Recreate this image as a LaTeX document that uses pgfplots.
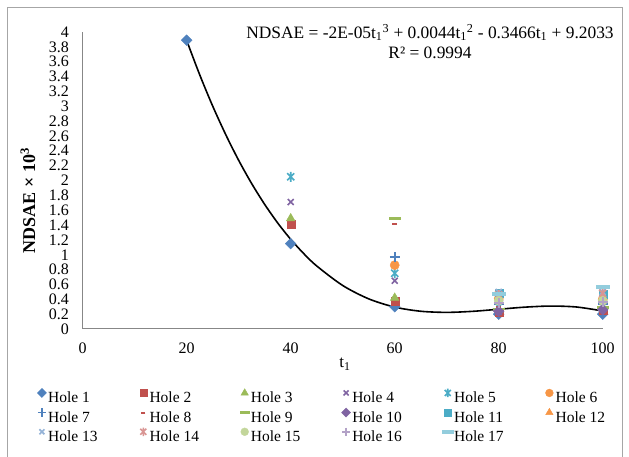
\documentclass[border=0pt]{standalone}
\usepackage{fontspec}
\setmainfont{Liberation Serif}
\usepackage{pgfplots}
\pgfplotsset{compat=1.18}
\definecolor{c1}{HTML}{4F81BD}
\definecolor{c2}{HTML}{C0504D}
\definecolor{c3}{HTML}{9BBB59}
\definecolor{c4}{HTML}{8064A2}
\definecolor{c5}{HTML}{4BACC6}
\definecolor{c6}{HTML}{F79646}
\definecolor{c13}{HTML}{95B3D7}
\definecolor{c14}{HTML}{D99694}
\definecolor{c15}{HTML}{C3D69B}
\definecolor{c16}{HTML}{B3A2C7}
\definecolor{c17}{HTML}{93CDDD}
\definecolor{axgray}{HTML}{878787}
\definecolor{framegray}{HTML}{A6A6A6}
\pgfdeclareplotmark{xstar}{%
  \pgfpathmoveto{\pgfqpoint{0pt}{\pgfplotmarksize}}%
  \pgfpathlineto{\pgfqpoint{0pt}{-\pgfplotmarksize}}%
  \pgfpathmoveto{\pgfqpoint{-.7071\pgfplotmarksize}{-.7071\pgfplotmarksize}}%
  \pgfpathlineto{\pgfqpoint{.7071\pgfplotmarksize}{.7071\pgfplotmarksize}}%
  \pgfpathmoveto{\pgfqpoint{-.7071\pgfplotmarksize}{.7071\pgfplotmarksize}}%
  \pgfpathlineto{\pgfqpoint{.7071\pgfplotmarksize}{-.7071\pgfplotmarksize}}%
  \pgfusepathqstroke}
\newcommand\lt[1]{\makebox[89.5bp][l]{#1}}
\begin{document}
\begin{tikzpicture}
\path[use as bounding box] (0bp,0bp) rectangle (629bp,457bp);
\draw[framegray, line width=0.9bp] (7bp,-2bp) -- (7bp,450bp) -- (622bp,450bp) -- (622bp,-2bp);
\begin{axis}[
  at={(82.7bp,128bp)}, anchor=origin,
  scale only axis, width=520bp, height=297bp,
  xmin=0, xmax=100, ymin=0, ymax=4,
  clip=false,
  axis x line*=bottom, axis y line*=left,
  axis line style={axgray, line width=1bp},
  major tick length=0pt,
  xtick={0,20,40,60,80,100},
  ytick={0,0.2,0.4,0.6,0.8,1,1.2,1.4,1.6,1.8,2,2.2,2.4,2.6,2.8,3,3.2,3.4,3.6,3.8,4},
  /pgf/number format/assume math mode=true,
  /pgf/number format/fixed, /pgf/number format/precision=1,
  tick label style={font=\fontsize{16bp}{18bp}\selectfont, inner sep=0pt},
  yticklabel style={anchor=east, xshift=-13.7bp},
  xticklabel style={anchor=north, yshift=-14bp},
  legend columns=6,
  legend cell align=left,
  legend style={at={(axis description cs:-0.0894,-0.2)}, anchor=north west,
     draw=none, fill=none, inner sep=0pt, outer sep=0pt,
     font=\fontsize{15.5bp}{17bp}\selectfont,
     nodes={inner sep=0pt, text height=10bp, text depth=0pt},
     row sep=5.5bp,
     /tikz/every odd column/.append style={column sep=0.5bp},
     /tikz/every even column/.append style={column sep=0pt}},
  legend image code/.code={\path (-5.5bp,4.5bp) (5.5bp,4.5bp); \draw[#1, /tikz/every mark/.append style={scale=0.85}] plot coordinates {(0bp,4.5bp)};},
]
% Hole 1
\addplot[only marks, color=c1, mark=square*, mark size=3.8bp, mark options={rotate=45, fill=c1}]
  coordinates {(20,3.89) (40,1.15) (60,0.30) (80,0.20) (100,0.20)};
\addlegendentry{\lt{Hole 1}}
% Hole 2
\addplot[only marks, color=c2, mark=square*, mark size=4bp, mark options={fill=c2}]
  coordinates {(40,1.41) (60,0.38) (80,0.22) (100,0.25)};
\addlegendentry{\lt{Hole 2}}
% Hole 3
\addplot[only marks, color=c3, mark=triangle*, mark size=5bp, mark options={fill=c3}]
  coordinates {(40,1.49) (60,0.42) (80,0.26) (100,0.28)};
\addlegendentry{\lt{Hole 3}}
% Hole 4
\addplot[only marks, color=c4, mark=x, mark size=4.2bp, mark options={line width=1.6bp}]
  coordinates {(40,1.71) (60,0.65) (80,0.23) (100,0.27)};
\addlegendentry{\lt{Hole 4}}
% Hole 5
\addplot[only marks, color=c5, mark=xstar, mark size=5bp, mark options={line width=1.6bp}]
  coordinates {(40,2.05) (60,0.75) (80,0.30) (100,0.31)};
\addlegendentry{\lt{Hole 5}}
% Hole 6
\addplot[only marks, color=c6, mark=*, mark size=4.6bp, mark options={fill=c6}]
  coordinates {(60,0.86) (80,0.41) (100,0.40)};
\addlegendentry{\lt{Hole 6}}
% Hole 7
\addplot[only marks, color=c1, mark=+, mark size=4.8bp, mark options={line width=1.6bp}]
  coordinates {(60,0.97) (80,0.33) (100,0.34)};
\addlegendentry{\lt{Hole 7}}
% Hole 8
\addplot[only marks, color=c2, mark=-, mark size=2.5bp, mark options={line width=2bp}]
  coordinates {(60,1.41) (80,0.29) (100,0.30)};
\addlegendentry{\lt{Hole 8}}
% Hole 9
\addplot[only marks, color=c3, mark=-, mark size=6bp, mark options={line width=2.5bp}]
  coordinates {(60,1.49) (80,0.27) (100,0.29)};
\addlegendentry{\lt{Hole 9}}
% Hole 10
\addplot[only marks, color=c4, mark=square*, mark size=3.8bp, mark options={rotate=45, fill=c4}]
  coordinates {(80,0.24) (100,0.26)};
\addlegendentry{\lt{Hole 10}}
% Hole 11
\addplot[only marks, color=c5, mark=square*, mark size=4bp, mark options={fill=c5}]
  coordinates {(80,0.48) (100,0.47)};
\addlegendentry{\lt{Hole 11}}
% Hole 12
\addplot[only marks, color=c6, mark=triangle*, mark size=5bp, mark options={fill=c6}]
  coordinates {(80,0.43) (100,0.43)};
\addlegendentry{\lt{Hole 12}}
% Hole 13
\addplot[only marks, color=c13, mark=x, mark size=4.2bp, mark options={line width=1.6bp}]
  coordinates {(80,0.50) (100,0.50)};
\addlegendentry{\lt{Hole 13}}
% Hole 14
\addplot[only marks, color=c14, mark=xstar, mark size=5bp, mark options={line width=1.6bp}]
  coordinates {(80,0.46) (100,0.48)};
\addlegendentry{\lt{Hole 14}}
% Hole 15
\addplot[only marks, color=c15, mark=*, mark size=4.6bp, mark options={fill=c15}]
  coordinates {(80,0.38) (100,0.38)};
\addlegendentry{\lt{Hole 15}}
% Hole 16
\addplot[only marks, color=c16, mark=+, mark size=4.8bp, mark options={line width=1.6bp}]
  coordinates {(80,0.35) (100,0.36)};
\addlegendentry{\lt{Hole 16}}
% Hole 17
\addplot[only marks, color=c17, mark=-, mark size=7bp, mark options={line width=4bp}]
  coordinates {(80,0.47) (100,0.56)};
\addlegendentry{\lt{Hole 17}}
% trendline (values read along the drawn cubic trendline)
\addplot[black, line width=1.6bp, smooth, forget plot] coordinates {
 (20,3.885) (22.5,3.424) (25,3.002) (27.5,2.619) (30,2.271) (32.5,1.958) (35,1.678)
 (37.5,1.428) (40,1.208) (42.5,1.016) (45,0.849) (50,0.586) (55,0.406) (60,0.295)
 (65,0.239) (70,0.224) (75,0.238) (80,0.266) (85,0.294) (90,0.309) (95,0.296) (100,0.243)};
\end{axis}
\node[font=\fontsize{17.4bp}{20.5bp}\selectfont, align=center] at (430bp,415.5bp)
  {NDSAE = -2E-05t\textsubscript{1}\textsuperscript{3} + 0.0044t\textsubscript{1}\textsuperscript{2} - 0.3466t\textsubscript{1} + 9.2033\\ R² = 0.9994};
\node[font=\fontsize{18bp}{20bp}\selectfont\bfseries, rotate=90] at (28bp,256.5bp) {NDSAE × 10\textsuperscript{3}};
\node[font=\fontsize{17bp}{18bp}\selectfont] at (345bp,93bp) {t\textsubscript{1}};
\end{tikzpicture}
\end{document}
